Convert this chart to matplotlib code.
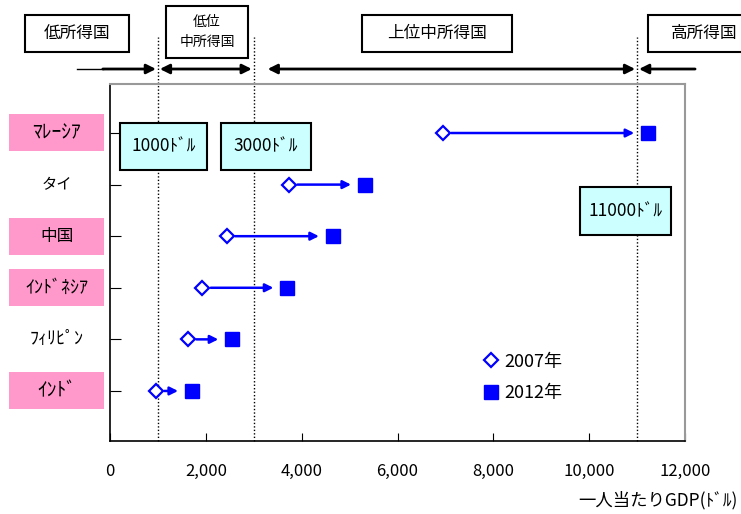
import matplotlib
matplotlib.use('Agg')
from matplotlib import pyplot as plt
from matplotlib.patches import Rectangle
from matplotlib.ticker import FuncFormatter

plt.rcParams['font.family'] = ['Noto Sans CJK JP', 'DejaVu Sans']

# per-capita GDP (US$), top row first
countries = ['ﾏﾚｰｼｱ', 'タイ', '中国', 'ｲﾝﾄﾞﾈｼｱ', 'ﾌｨﾘﾋﾟﾝ', 'ｲﾝﾄﾞ']
highlight = [True, False, True, True, False, True]
label_size = [14, 11, 12, 13, 13, 14]
gdp_2007 = [6950, 3740, 2440, 1930, 1630, 960]
gdp_2012 = [11230, 5320, 4650, 3700, 2550, 1710]

thresholds = [1000, 3000, 11000]
threshold_labels = ['1000ﾄﾞﾙ', '3000ﾄﾞﾙ', '11000ﾄﾞﾙ']
x_ticks = [0, 2000, 4000, 6000, 8000, 10000, 12000]

W, H = 741, 514
BLUE = '#0000FF'

fig = plt.figure(figsize=(W / 100, H / 100), dpi=100)
ax = fig.add_axes([110 / W, 1 - 441 / H, 575 / W, 357 / H])


def px_box(x0, y0, x1, y1, text, size, face='white'):
    # box given in pixel coords, origin at top-left of the figure
    fig.add_artist(Rectangle((x0 / W, 1 - y1 / H), (x1 - x0) / W, (y1 - y0) / H,
                             transform=fig.transFigure, facecolor=face,
                             edgecolor='black', lw=1.5))
    fig.text((x0 + x1) / 2 / W, 1 - (y0 + y1) / 2 / H, text, fontsize=size,
             ha='center', va='center', linespacing=1.6)


ypos = list(range(len(countries), 0, -1))

# arrows from 2007 to 2012
for y, a, b in zip(ypos, gdp_2007, gdp_2012):
    ax.annotate('', xy=(b, y), xytext=(a, y),
                arrowprops=dict(arrowstyle='-|>', color=BLUE, lw=1.8,
                                shrinkA=6, shrinkB=10, mutation_scale=12))

ax.plot(gdp_2007, ypos, ls='none', marker='D', ms=7, mfc='white', mec=BLUE,
        mew=1.6, label='2007年', zorder=3)
ax.plot(gdp_2012, ypos, ls='none', marker='s', ms=9.5, mfc=BLUE, mec=BLUE,
        label='2012年', zorder=3)

# income thresholds
for t in thresholds:
    ax.axvline(t, ymin=0, ymax=1.132, color='black', ls=(0, (1, 1.5)), lw=1,
               clip_on=False, zorder=1)

ax.set_xlim(0, 12000)
ax.set_ylim(0.03, 6.95)
ax.set_xticks(x_ticks)
ax.xaxis.set_major_formatter(FuncFormatter(lambda v, p: f'{int(v):,}'))
ax.set_yticks(ypos)
ax.set_yticklabels([])
ax.tick_params(axis='x', direction='in', length=6, pad=16, labelsize=12)
ax.tick_params(axis='y', direction='in', length=8)

for side in ['top', 'right']:
    ax.spines[side].set_color('#999999')
    ax.spines[side].set_linewidth(1.5)
for side in ['left', 'bottom']:
    ax.spines[side].set_linewidth(1.2)

# country labels on the left
ytr = ax.get_yaxis_transform()
for y, name, hl, fs in zip(ypos, countries, highlight, label_size):
    if hl:
        ax.add_patch(Rectangle((-0.1757, y - 0.358), 0.1652, 0.717, transform=ytr,
                               facecolor='#FF99CC', edgecolor='none', clip_on=False))
    ax.text(-0.093, y, name, transform=ytr, fontsize=fs, ha='center', va='center')

# income band arrows above the plot
xtr = ax.get_xaxis_transform()
yb = 1.042
head = dict(color='black', lw=2, mutation_scale=14, shrinkA=0, shrinkB=0)
ax.plot([-690, -150], [yb, yb], transform=xtr, color='black', lw=1, clip_on=False)
ax.annotate('', xy=(960, yb), xytext=(-150, yb), xycoords=xtr, textcoords=xtr,
            arrowprops=dict(arrowstyle='-|>', **head))
ax.annotate('', xy=(1040, yb), xytext=(2960, yb), xycoords=xtr, textcoords=xtr,
            arrowprops=dict(arrowstyle='<|-|>', **head))
ax.annotate('', xy=(3290, yb), xytext=(10960, yb), xycoords=xtr, textcoords=xtr,
            arrowprops=dict(arrowstyle='<|-|>', **head))
ax.annotate('', xy=(11040, yb), xytext=(12210, yb), xycoords=xtr, textcoords=xtr,
            arrowprops=dict(arrowstyle='-|>', **head))

px_box(25, 15, 129, 52, '低所得国', 12)
px_box(166, 6, 248, 58, '低位\n中所得国', 10)
px_box(362, 15, 512, 52, '上位中所得国', 12)
px_box(648, 15, 760, 52, '高所得国', 12)

# threshold callouts
px_box(120, 123, 207, 170, threshold_labels[0], 12.5, face='#CCFFFF')
px_box(221, 123, 311, 170, threshold_labels[1], 12.5, face='#CCFFFF')
px_box(580, 187, 671, 235, threshold_labels[2], 12.5, face='#CCFFFF')

ax.legend(loc='center left', bbox_to_anchor=(0.635, 0.178), frameon=False,
          fontsize=13, handlelength=0.8, handletextpad=0.3, labelspacing=0.75,
          borderpad=0)

fig.text(738 / W, 1 - 500 / H, '一人当たりGDP(ﾄﾞﾙ)', fontsize=12.5, ha='right', va='center')

fig.savefig('out.png', dpi=100)
